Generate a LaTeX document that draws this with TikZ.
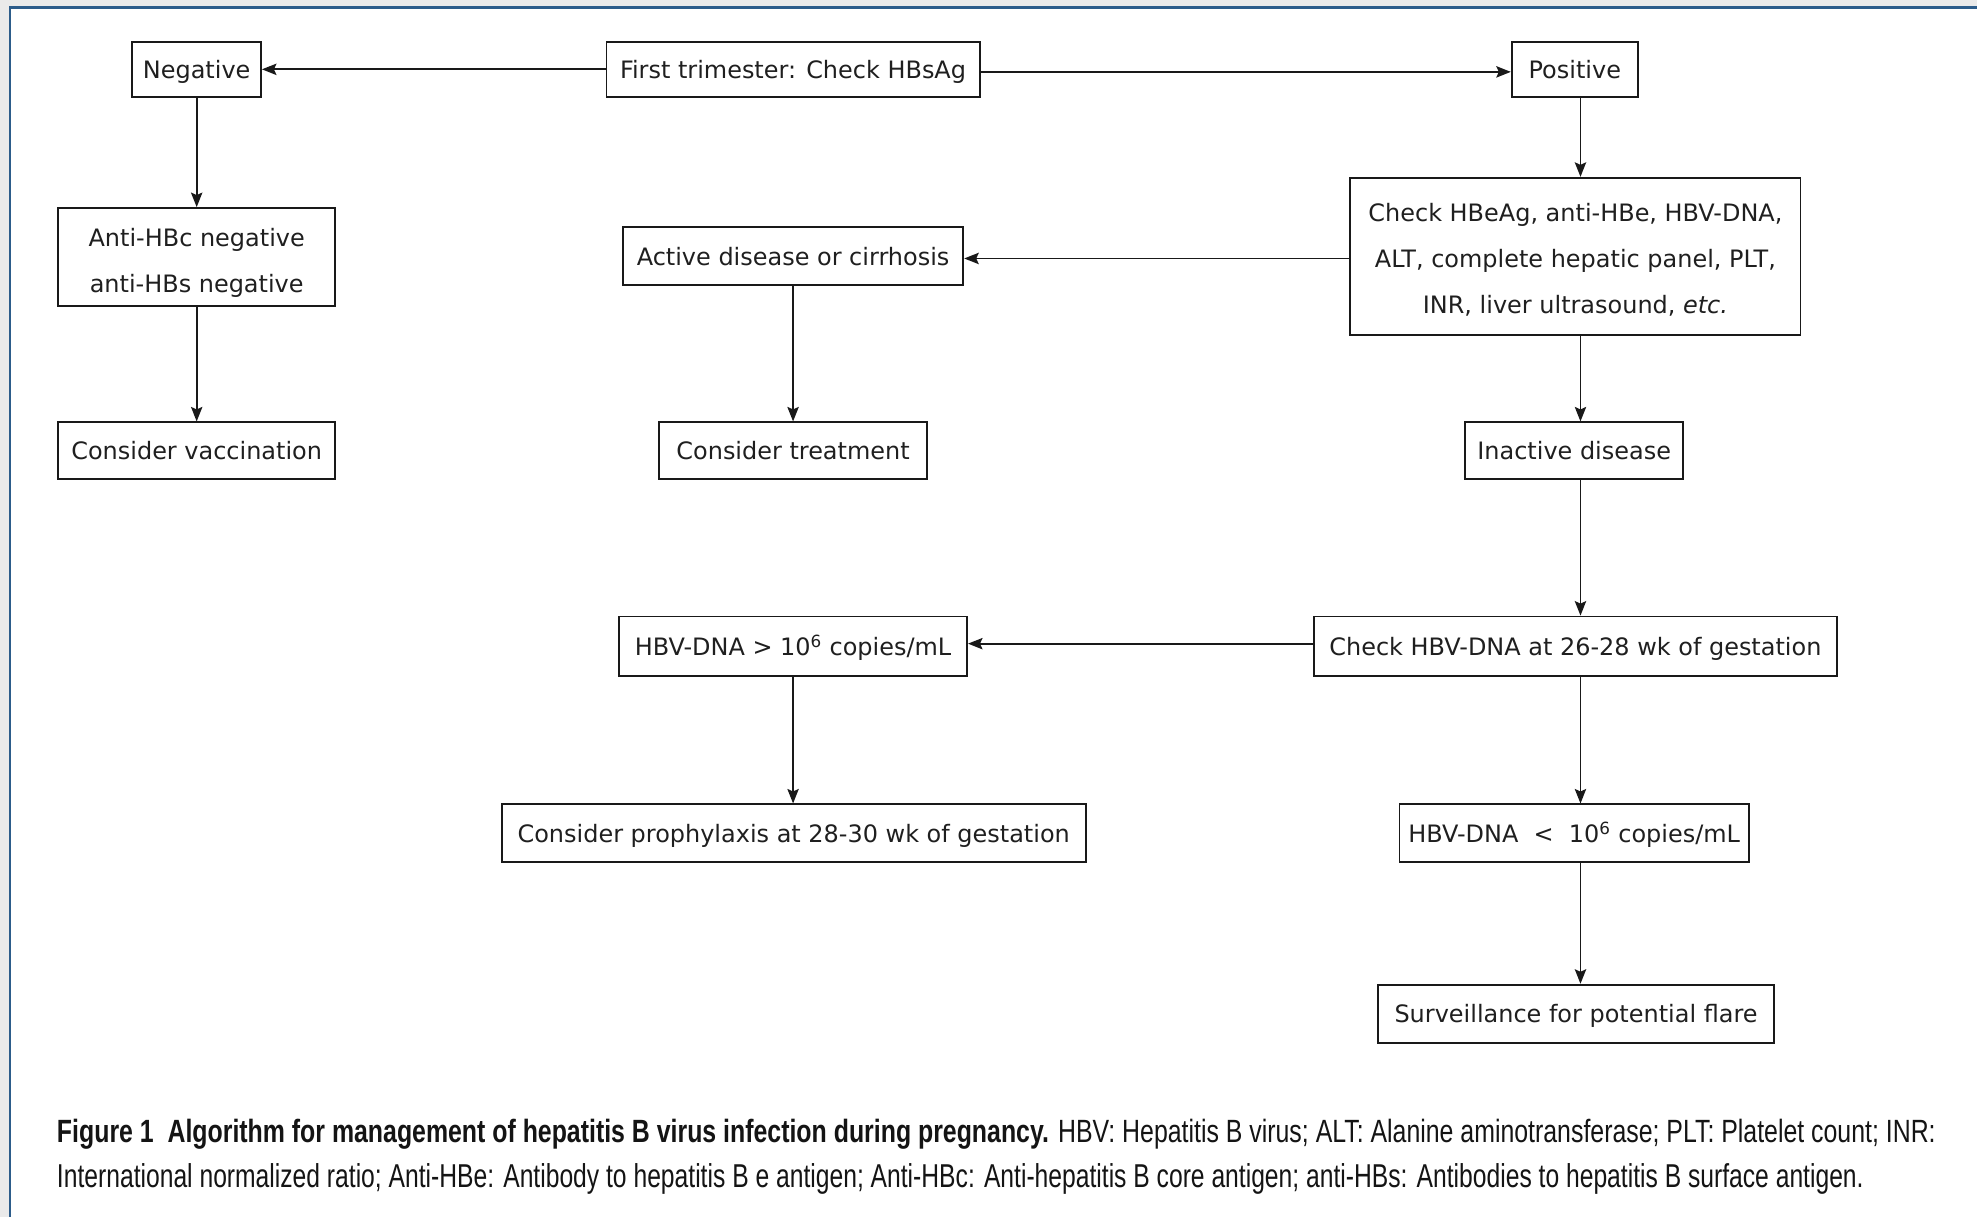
\documentclass[tikz,border=0pt]{standalone}
\usepackage{fontspec}
\usepackage{graphicx}
\setmainfont{DejaVu Sans}
\newfontfamily\capfont{Liberation Sans}
\usetikzlibrary{arrows.meta}
\definecolor{frameblue}{RGB}{44,92,138}
\definecolor{framegray}{RGB}{234,234,234}
\begin{document}
\begin{tikzpicture}[x=1pt,y=-1pt,
  box/.style={draw=black!90, line width=1.5pt, inner sep=0pt, align=center,
    font=\fontsize{19}{36.5}\selectfont, text=black!88},
  one/.style={box, text height=14.4pt, text depth=0pt},
  boxtext/.style={inner sep=0pt, align=center, font=\fontsize{19}{36.5}\selectfont, text=black!88},
  arr/.style={line width=1.4pt, draw=black!90, -{Stealth[length=11.5pt,width=9pt,inset=2pt]}}]
\useasboundingbox (0,0) rectangle (1568,965);
\fill[white] (0,0) rectangle (1568,965);
\fill[framegray] (0,0) rectangle (1568,5);
\fill[framegray] (0,0) rectangle (7,965);
\draw[frameblue, line width=2pt] (8,965) -- (8,6) -- (1568,6);

\node[one, minimum width=102pt, minimum height=44pt] (neg) at (156,55) {Negative};
\node[one, minimum width=296pt, minimum height=44pt] (first) at (629,55) {First trimester: Check HBsAg};
\node[one, minimum width=100pt, minimum height=44pt] (pos) at (1249,55) {Positive};
\node[box, minimum width=220pt, minimum height=78pt] (antihbc) at (156,204) {};
\node[boxtext] (antihbcT) at (156,208.5) {Anti-HBc negative\\anti-HBs negative};
\node[one, minimum width=270pt, minimum height=46pt] (active) at (629,203) {Active disease or cirrhosis};
\node[box, minimum width=357pt, minimum height=125pt] (check) at (1249.5,203.5) {};
\node[boxtext] (checkT) at (1249.5,206) {Check HBeAg, anti-HBe, HBV-DNA,\\ALT, complete hepatic panel, PLT,\\INR, liver ultrasound, \textit{etc.}};
\node[one, minimum width=220pt, minimum height=45pt] (vacc) at (156,357.5) {Consider vaccination};
\node[one, minimum width=212pt, minimum height=45pt] (treat) at (629,357.5) {Consider treatment};
\node[one, minimum width=173pt, minimum height=45pt] (inactive) at (1248.5,357.5) {Inactive disease};
\node[one, minimum width=276pt, minimum height=47pt] (gt) at (629,512.5) {HBV-DNA > 10\textsuperscript{6} copies/mL};
\node[one, minimum width=415pt, minimum height=47pt] (check2) at (1249.5,512.5) {Check HBV-DNA at 26-28 wk of gestation};
\node[one, minimum width=463pt, minimum height=46pt] (proph) at (629.5,661) {Consider prophylaxis at 28-30 wk of gestation};
\node[one, minimum width=277pt, minimum height=46pt] (lt) at (1248.5,661) {HBV-DNA \ < \ 10\textsuperscript{6} copies/mL};
\node[one, minimum width=314pt, minimum height=46pt] (surv) at (1250,804) {Surveillance for potential flare};

\draw[arr] (first.west) -- (neg.east);
\draw[arr] ([yshift=-2pt]first.east) -- ([yshift=-2pt]pos.west);
\draw[arr] (neg.south) -- (antihbc.north);
\draw[arr] (antihbc.south) -- (vacc.north);
\draw[arr] ([xshift=4.5pt]pos.south) -- ([xshift=4.5pt]pos.south |- check.north);
\draw[arr] ([yshift=-2pt]check.west |- active.east) -- ([yshift=-2pt]active.east);
\draw[arr] (active.south) -- (treat.north);
\draw[arr] ([xshift=4pt]check.south) -- ([xshift=4pt]check.south |- inactive.north);
\draw[arr] ([xshift=5pt]inactive.south) -- ([xshift=5pt]inactive.south |- check2.north);
\draw[arr] ([yshift=2pt]check2.west) -- ([yshift=2pt]gt.east);
\draw[arr] (gt.south) -- (gt.south |- proph.north);
\draw[arr] ([xshift=4pt]check2.south) -- ([xshift=4pt]check2.south |- lt.north);
\draw[arr] ([xshift=5pt]lt.south) -- ([xshift=5pt]lt.south |- surv.north);

\node[anchor=base west, inner sep=0pt, text=black!92] (cap1) at (45,906)
  {\resizebox{1490pt}{18.5pt}{\capfont\fontsize{24}{24}\selectfont\textbf{Figure 1\ \ Algorithm for management of hepatitis B virus infection during pregnancy.} HBV: Hepatitis B virus; ALT: Alanine aminotransferase; PLT: Platelet count; INR:}};
\node[anchor=base west, inner sep=0pt, text=black!92] (cap2) at (45,942)
  {\resizebox{1433pt}{19pt}{\capfont\fontsize{24}{24}\selectfont International normalized ratio; Anti-HBe: Antibody to hepatitis B e antigen; Anti-HBc: Anti-hepatitis B core antigen; anti-HBs: Antibodies to hepatitis B surface antigen.}};
\end{tikzpicture}
\end{document}
